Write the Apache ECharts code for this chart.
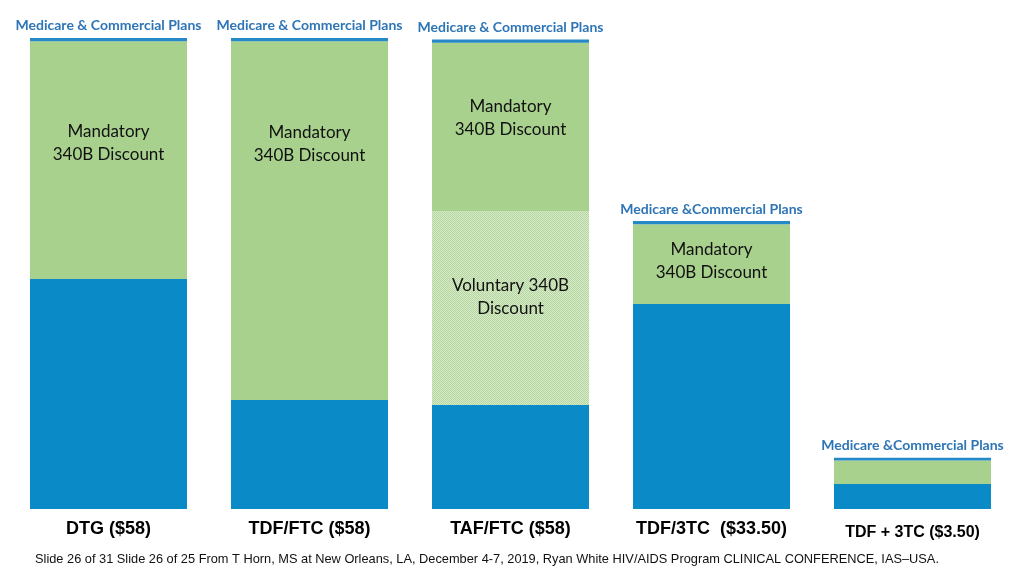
<!DOCTYPE html>
<html>
<head>
<meta charset="utf-8">
<script src="https://cdn.jsdelivr.net/npm/echarts@6/dist/echarts.min.js"></script>
<style>
  html, body { margin: 0; padding: 0; background: #fff; }
  #chart { width: 1024px; height: 576px; }
</style>
</head>
<body>
<div id="chart"></div>
<script>
// drug names, as printed under each bar
const drugs = ['DTG ($58)', 'TDF/FTC ($58)', 'TAF/FTC ($58)', 'TDF/3TC  ($33.50)', 'TDF + 3TC ($3.50)']
// segment heights (same scale for all bars)
const netPrice = [28.5, 13.5, 12.9, 25.4, 3.1]
const voluntary = [0, 0, 24.0, 0, 0]
const mandatory = [29.5, 44.5, 20.9, 9.9, 2.9]
const medicare = [0.4, 0.4, 0.4, 0.4, 0.35]
const topLabels = ['Medicare & Commercial Plans', 'Medicare & Commercial Plans', 'Medicare & Commercial Plans',
  'Medicare &Commercial Plans', 'Medicare &Commercial Plans']

// text inside the green boxes sits higher than the middle on some bars
const mandatoryShift = [-17, -77, -9, -3, 0]

// fine checker texture for the voluntary block
function hatch() {
  const c = document.createElement('canvas')
  c.width = 2; c.height = 2
  const g = c.getContext('2d')
  g.fillStyle = '#d8ebcb'
  g.fillRect(0, 0, 2, 2)
  g.fillStyle = '#b4d69e'
  g.fillRect(0, 0, 1, 1); g.fillRect(1, 1, 1, 1)
  return c
}

const chart = echarts.init(document.getElementById('chart'))

const insideFont = { color: '#111', fontFamily: 'Lato', fontSize: 17, lineHeight: 23 }
const sans = "'Liberation Sans', Arial, sans-serif"

chart.setOption({
  animation: false,
  title: {
    text: 'Slide 26 of 31 Slide 26 of 25 From T Horn, MS at New Orleans, LA, December 4-7, 2019, Ryan White HIV/AIDS Program CLINICAL CONFERENCE, IAS\u2013USA.',
    left: 30,
    top: 548,
    textStyle: { fontFamily: sans, fontWeight: 'normal', fontSize: 12.8, color: '#111' }
  },
  grid: { left: 8, right: 11, top: 25, bottom: 67 },
  xAxis: {
    type: 'category',
    data: drugs,
    axisLine: { show: false },
    axisTick: { show: false },
    axisLabel: {
      margin: 11,
      interval: 0,
      formatter: (v, i) => (i === 4 ? '{s|' + v + '}' : '{b|' + v + '}'),
      rich: {
        b: { fontFamily: sans, fontWeight: 'bold', fontSize: 18, color: '#000' },
        s: { fontFamily: sans, fontWeight: 'bold', fontSize: 16, color: '#000', padding: [5, 0, 0, 0] }
      }
    }
  },
  yAxis: { type: 'value', min: 0, max: 60, show: false, splitLine: { show: false } },
  series: [
    {
      type: 'bar', stack: 'p', barWidth: 157,
      itemStyle: { color: '#0a8bc8' },
      data: netPrice
    },
    {
      type: 'bar', stack: 'p',
      itemStyle: { color: { image: hatch(), repeat: 'repeat' } },
      label: {
        show: true, position: 'inside', offset: [0, -11],
        formatter: p => (p.value > 0 ? 'Voluntary 340B\nDiscount' : ''),
        ...insideFont
      },
      data: voluntary
    },
    {
      type: 'bar', stack: 'p',
      itemStyle: { color: '#a9d18e' },
      data: mandatory.map((v, i) => ({
        value: v,
        label: {
          show: i < 4, position: 'inside', offset: [0, mandatoryShift[i]],
          formatter: 'Mandatory\n340B Discount',
          ...insideFont
        }
      }))
    },
    {
      type: 'bar', stack: 'p',
      itemStyle: { color: '#2589c7' },
      label: {
        show: true, position: 'top', distance: 5,
        formatter: p => topLabels[p.dataIndex],
        color: '#2e75b6', fontFamily: 'Lato', fontWeight: 'bold', fontSize: 14
      },
      data: medicare
    }
  ]
})
</script>
</body>
</html>
